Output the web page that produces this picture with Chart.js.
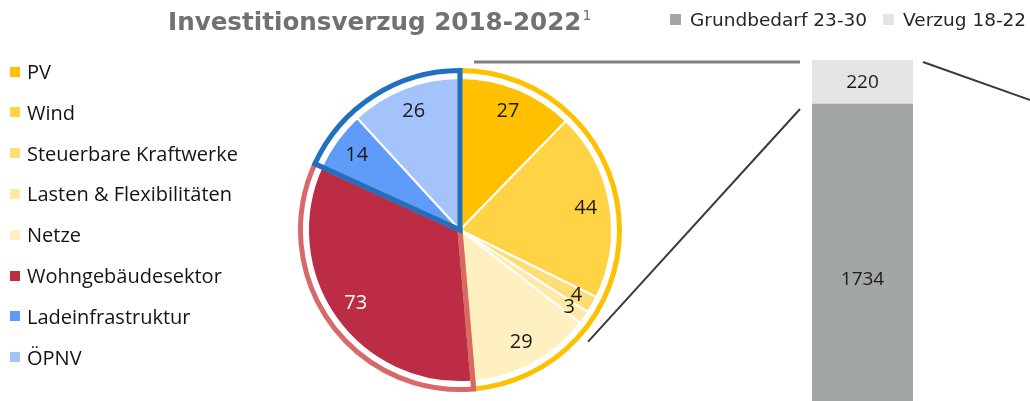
<!DOCTYPE html>
<html lang="de">
<head>
<meta charset="utf-8">
<title>Investitionsverzug 2018-2022</title>
<script src="https://cdn.jsdelivr.net/npm/chart.js@4.4.1/dist/chart.umd.min.js"></script>
<style>
  html, body { margin: 0; padding: 0; background: #fff; }
  body { width: 1030px; height: 401px; overflow: hidden; position: relative; }
  canvas { position: absolute; left: 0; top: 0; }
  #titel {
    position: absolute; left: 168px; top: 7px; margin: 0;
    font: bold 24.6px "DejaVu Sans", sans-serif; color: #6e7272; white-space: nowrap;
  }
  #titel sup { font-size: 14px; font-weight: normal; vertical-align: 10px; margin-left: 1px; }
  #legende_links { position: absolute; left: 10px; top: 0; font: 20px "Open Sans", sans-serif; color: #141414; }
  #legende_links div, #legende_rechts span { display: flex; align-items: center; white-space: nowrap; }
  #legende_links div { position: absolute; left: 0; }
  #legende_links i, #legende_rechts i { display: inline-block; width: 10px; height: 10px; margin-right: 7px; }
  #legende_rechts { position: absolute; left: 670px; top: 9px; font: 18.5px "DejaVu Sans", sans-serif; color: #262626; display: flex; }
  #legende_rechts span { margin-right: 16px; }
  #legende_rechts i { width: 11px; height: 11px; margin-right: 9px; }
</style>
</head>
<body>
<canvas id="kuchen" width="1030" height="401"></canvas>
<canvas id="balken" width="1030" height="460"></canvas>
<h1 id="titel">Investitionsverzug 2018-2022<sup>1</sup></h1>
<div id="legende_links"></div>
<div id="legende_rechts"></div>

<script>
// Investitionsverzug 2018-2022 je Bereich (Mrd. Euro)
const kategorien = ['PV', 'Wind', 'Steuerbare Kraftwerke', 'Lasten & Flexibilitäten', 'Netze',
                    'Wohngebäudesektor', 'Ladeinfrastruktur', 'ÖPNV'];
const verzug = [27, 44, 4, 3, 29, 73, 14, 26];
const farben = ['#ffc000', '#ffd343', '#ffdd75', '#ffe9a8', '#fff0c2', '#bc2c44', '#5f9bf9', '#a4c3fb'];

// Gruppen fuer die Umrandung: [erstes Segment, letztes Segment]
const gruppen = [[0, 4], [5, 5], [6, 7]];
const gruppenFarben = ['#ffc000', '#d9686b', '#1f70c1'];

// Balken rechts
const balkenKategorie = ['Gesamt'];
const serien = ['Grundbedarf 23-30', 'Verzug 18-22'];
const grundbedarf = [1734];
const verzugSumme = [220];
const balkenFarben = ['#a3a6a6', '#e3e4e4'];

// Legende links
const legLinks = document.getElementById('legende_links');
kategorien.forEach((k, i) => {
    const d = document.createElement('div');
    d.style.top = (58 + i * 40.8) + 'px';
    d.innerHTML = `<i style="background:${farben[i]}"></i>${k}`;
    legLinks.appendChild(d);
});

// Legende rechts
const legRechts = document.getElementById('legende_rechts');
serien.forEach((s, i) => {
    const sp = document.createElement('span');
    sp.innerHTML = `<i style="background:${balkenFarben[i]}"></i>${s}`;
    legRechts.appendChild(sp);
});

// Umrandung der Gruppen und Werte im Kuchen
const kuchenPlugin = {
    id: 'kuchenExtras',
    afterDatasetsDraw(chart) {
        const ctx = chart.ctx;
        const arcs = chart.getDatasetMeta(0).data;
        const cx = arcs[0].x, cy = arcs[0].y, R = arcs[0].outerRadius;
        ctx.save();
        ctx.lineWidth = 5;
        ctx.lineJoin = 'miter';
        gruppen.forEach(([a, b], i) => {
            ctx.strokeStyle = gruppenFarben[i];
            ctx.beginPath();
            ctx.moveTo(cx, cy);
            ctx.arc(cx, cy, R + 7.5, arcs[a].startAngle, arcs[b].endAngle);
            ctx.closePath();
            ctx.stroke();
        });

        ctx.font = '20px "Open Sans", sans-serif';
        ctx.textAlign = 'center';
        ctx.textBaseline = 'middle';
        arcs.forEach((arc, i) => {
            const mitte = (arc.startAngle + arc.endAngle) / 2;
            const r = R * (verzug[i] < 5 ? 0.88 : 0.84);
            ctx.fillStyle = i === 5 ? '#ffffff' : '#1a1a1a';
            ctx.fillText(verzug[i], cx + Math.cos(mitte) * r, cy + Math.sin(mitte) * r);
        });
        ctx.restore();
    }
};

const kuchen = new Chart(document.getElementById('kuchen'), {
    type: 'pie',
    data: {
        labels: kategorien,
        datasets: [{
            data: verzug,
            backgroundColor: farben,
            borderColor: '#ffffff',
            borderWidth: 2
        }]
    },
    options: {
        responsive: false,
        animation: false,
        radius: 152,
        layout: { padding: { left: 295, right: 405, top: 65, bottom: 6 } },
        plugins: { legend: { display: false }, tooltip: { enabled: false } }
    },
    plugins: [kuchenPlugin]
});

// Werte im Balken und Verbindungslinien zum Kuchen
const balkenPlugin = {
    id: 'balkenExtras',
    afterDraw(chart) {
        const ctx = chart.ctx;
        const unten = chart.getDatasetMeta(0).data[0];
        const oben = chart.getDatasetMeta(1).data[0];
        const links = unten.x - unten.width / 2, rechts = unten.x + unten.width / 2;
        const arcs = kuchen.getDatasetMeta(0).data;
        const cx = arcs[0].x, cy = arcs[0].y, R = arcs[0].outerRadius;

        ctx.save();
        ctx.font = '19px "Open Sans", sans-serif';
        ctx.textAlign = 'center';
        ctx.textBaseline = 'middle';
        ctx.fillStyle = '#1a1a1a';
        ctx.fillText(grundbedarf[0], unten.x, (unten.y + unten.base) / 2 + 2);
        ctx.fillText(verzugSumme[0], oben.x, (oben.y + oben.base) / 2 + 1);

        // obere Linie
        ctx.strokeStyle = '#808080';
        ctx.lineWidth = 3;
        ctx.beginPath();
        ctx.moveTo(cx + 14, oben.y + 2);
        ctx.lineTo(links - 12, oben.y + 2);
        ctx.stroke();

        // untere Linie vom Kuchen zum Balken
        const w = arcs[3].endAngle + 0.06;
        ctx.strokeStyle = '#3a3a3a';
        ctx.lineWidth = 2;
        ctx.beginPath();
        ctx.moveTo(cx + Math.cos(w) * (R + 18), cy + Math.sin(w) * (R + 18));
        ctx.lineTo(links - 12, unten.y + 5);
        ctx.stroke();

        // Linie nach rechts
        ctx.beginPath();
        ctx.moveTo(rechts + 10, oben.y + 2);
        ctx.lineTo(rechts + 210, oben.y + 73);
        ctx.stroke();
        ctx.restore();
    }
};

new Chart(document.getElementById('balken'), {
    type: 'bar',
    data: {
        labels: balkenKategorie,
        datasets: [
            { label: serien[0], data: grundbedarf, backgroundColor: balkenFarben[0] },
            { label: serien[1], data: verzugSumme, backgroundColor: balkenFarben[1] }
        ]
    },
    options: {
        responsive: false,
        animation: false,
        layout: { padding: { left: 812, right: 117, top: 60, bottom: 9 } },
        datasets: { bar: { barPercentage: 1, categoryPercentage: 1 } },
        plugins: { legend: { display: false }, tooltip: { enabled: false } },
        scales: {
            x: { stacked: true, display: false },
            y: { stacked: true, display: false, min: 0, max: grundbedarf[0] + verzugSumme[0] }
        }
    },
    plugins: [balkenPlugin]
});
</script>
</body>
</html>
